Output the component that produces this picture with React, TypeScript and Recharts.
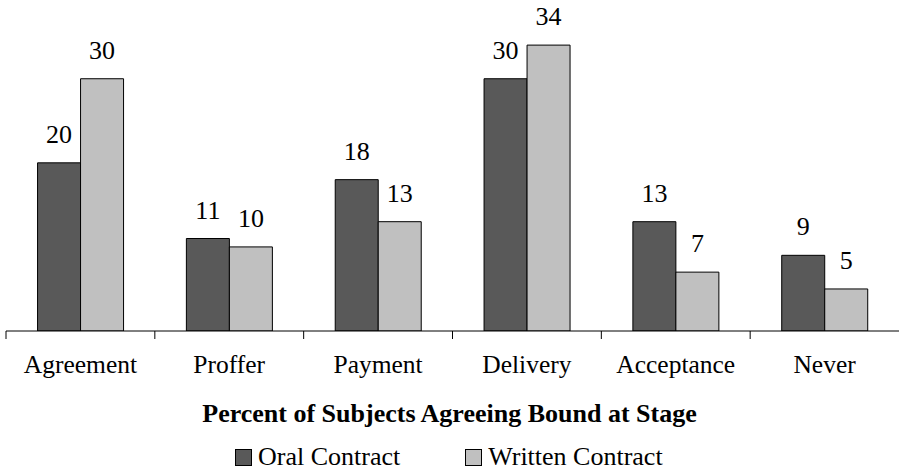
import React from 'react';
import { BarChart, Bar, XAxis, YAxis, Legend, LabelList } from 'recharts';

const categories = ['Agreement', 'Proffer', 'Payment', 'Delivery', 'Acceptance', 'Never'];
const oralValues = [20, 11, 18, 30, 13, 9];
const writtenValues = [30, 10, 13, 34, 7, 5];
const seriesNames = ['Oral Contract', 'Written Contract'];
const seriesColors = ['#595959', '#c0c0c0'];
const axisTitle = 'Percent of Subjects Agreeing Bound at Stage';

const data = categories.map((c, i) => ({ name: c, oral: oralValues[i], written: writtenValues[i] }));

const FONT = 'Liberation Serif, DejaVu Serif, serif';
const W = 899;
const H = 469;
const MARGIN = { top: 36.7, right: 0, left: 6, bottom: 0 };
const BAND = (W - MARGIN.left - MARGIN.right) / categories.length;

const CustomTick = (props: any) => {
  const { x, y, payload } = props;
  const bx = x - BAND / 2;
  return (
    <g>
      <line x1={bx} y1={y} x2={bx} y2={y + 8} stroke="#000" strokeWidth={1} />
      <text x={x} y={y + 42} textAnchor="middle" style={{ fontFamily: FONT, fontSize: 25.5 }} fill="#000">
        {payload.value}
      </text>
    </g>
  );
};

const LegendContent = () => (
  <div style={{ display: 'flex', alignItems: 'center', paddingLeft: 235, fontFamily: FONT, fontSize: 26, lineHeight: '24px', height: 24, color: '#000' }}>
    {seriesNames.map((n, i) => (
      <div key={n} style={{ display: 'flex', alignItems: 'center', marginRight: 65 }}>
        <span style={{ display: 'inline-block', width: 15, height: 15, background: seriesColors[i], border: '1px solid #000', marginRight: 6, marginTop: 2 }} />
        <span>{n}</span>
      </div>
    ))}
  </div>
);

const labelStyle = { fontFamily: FONT, fontSize: 26 };

export default function App() {
  return (
    <div style={{ position: 'absolute', left: 0, top: 0, width: W, height: H, background: '#fff', fontFamily: FONT }}>
      <BarChart width={W} height={H} data={data} margin={MARGIN} barCategoryGap="21.2%" barGap={0} style={{ fontFamily: FONT }}>
        <YAxis hide domain={[0, 35]} allowDataOverflow />
        <XAxis
          dataKey="name"
          height={H - 331}
          stroke="#000"
          tickLine={false}
          tickSize={0}
          tickMargin={0}
          interval={0}
          tick={<CustomTick />}
          label={{
            content: () => (
              <text x={449.5} y={422} textAnchor="middle" style={{ fontFamily: FONT, fontSize: 26, fontWeight: 'bold' }} fill="#000">
                {axisTitle}
              </text>
            ),
          }}
        />
        <Legend
          layout="horizontal"
          verticalAlign="middle"
          align="center"
          wrapperStyle={{ top: 444.5, left: 0, width: W }}
          content={<LegendContent />}
        />
        <Bar dataKey="oral" name={seriesNames[0]} fill={seriesColors[0]} stroke="#000" strokeWidth={1} isAnimationActive={false}>
          <LabelList dataKey="oral" position="top" offset={20} style={labelStyle} fill="#000" />
        </Bar>
        <Bar dataKey="written" name={seriesNames[1]} fill={seriesColors[1]} stroke="#000" strokeWidth={1} isAnimationActive={false}>
          <LabelList dataKey="written" position="top" offset={20} style={labelStyle} fill="#000" />
        </Bar>
      </BarChart>
    </div>
  );
}
